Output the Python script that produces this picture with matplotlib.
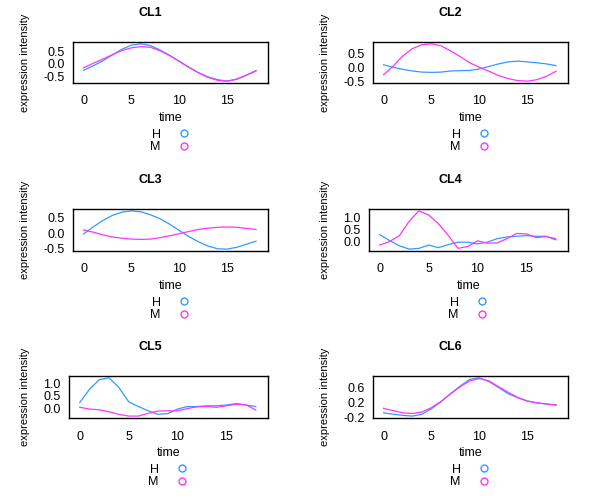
import matplotlib
matplotlib.use("Agg")
import matplotlib.pyplot as plt
from matplotlib.lines import Line2D

plt.rcParams['font.family'] = ['Liberation Sans', 'DejaVu Sans']
plt.rcParams['axes.unicode_minus'] = False

# time points and cluster profiles (H = blue, M = magenta)
time = list(range(19))

cl1_h = [-0.26, -0.08, 0.12, 0.36, 0.59, 0.76, 0.81, 0.74, 0.56, 0.34,
         0.10, -0.14, -0.36, -0.53, -0.64, -0.70, -0.62, -0.46, -0.28]
cl1_m = [-0.16, 0.02, 0.19, 0.37, 0.54, 0.65, 0.70, 0.67, 0.53, 0.33,
         0.10, -0.14, -0.36, -0.55, -0.67, -0.70, -0.62, -0.46, -0.28]

cl2_h = [0.10, 0.01, -0.06, -0.12, -0.16, -0.17, -0.16, -0.12, -0.11, -0.10,
         -0.05, 0.04, 0.13, 0.20, 0.23, 0.20, 0.17, 0.13, 0.07]
cl2_m = [-0.25, 0.05, 0.41, 0.67, 0.81, 0.84, 0.77, 0.59, 0.39, 0.17,
         0.01, -0.13, -0.28, -0.39, -0.46, -0.48, -0.43, -0.31, -0.13]

cl3_h = [-0.03, 0.20, 0.41, 0.58, 0.69, 0.73, 0.70, 0.60, 0.47, 0.29,
         0.08, -0.12, -0.29, -0.43, -0.52, -0.53, -0.47, -0.37, -0.27]
cl3_m = [0.10, 0.03, -0.06, -0.13, -0.17, -0.20, -0.21, -0.20, -0.15, -0.09,
         -0.02, 0.05, 0.12, 0.16, 0.19, 0.20, 0.19, 0.15, 0.12]

cl4_h = [0.29, 0.04, -0.18, -0.32, -0.29, -0.15, -0.26, -0.13, -0.03, -0.03,
         -0.10, -0.03, 0.12, 0.19, 0.22, 0.25, 0.22, 0.22, 0.07]
cl4_m = [-0.15, 0.00, 0.24, 0.85, 1.29, 1.12, 0.75, 0.26, -0.29, -0.21,
         0.03, -0.07, -0.06, 0.12, 0.34, 0.32, 0.16, 0.21, 0.12]

cl5_h = [0.23, 0.76, 1.14, 1.21, 0.83, 0.26, 0.07, -0.10, -0.24, -0.21,
         -0.03, 0.07, 0.07, 0.10, 0.10, 0.13, 0.19, 0.13, 0.07]
cl5_m = [0.04, -0.03, -0.06, -0.14, -0.24, -0.31, -0.31, -0.20, -0.11, -0.10,
         -0.10, -0.01, 0.06, 0.07, 0.04, 0.10, 0.16, 0.14, -0.07]

cl6_h = [-0.08, -0.12, -0.15, -0.17, -0.12, 0.03, 0.22, 0.44, 0.65, 0.83,
         0.87, 0.77, 0.61, 0.44, 0.33, 0.24, 0.19, 0.16, 0.13]
cl6_m = [0.04, -0.02, -0.08, -0.10, -0.06, 0.06, 0.23, 0.44, 0.63, 0.79,
         0.85, 0.79, 0.63, 0.48, 0.34, 0.24, 0.19, 0.16, 0.13]

titles = ["CL1", "CL2", "CL3", "CL4", "CL5", "CL6"]
h_series = [cl1_h, cl2_h, cl3_h, cl4_h, cl5_h, cl6_h]
m_series = [cl1_m, cl2_m, cl3_m, cl4_m, cl5_m, cl6_m]
y_ticks = [[-0.5, 0.0, 0.5], [-0.5, 0.0, 0.5], [-0.5, 0.0, 0.5],
           [0.0, 0.5, 1.0], [0.0, 0.5, 1.0], [-0.2, 0.2, 0.6]]
x_ticks = [0, 5, 10, 15]

H_COLOR = "#3399ff"
M_COLOR = "#ff33ff"

W, H = 600, 500
fig = plt.figure(figsize=(6, 5), dpi=100)


def fx(x):
    return x / W


def fy(y):
    return 1 - y / H


# axes boxes in pixels: left, top, right, bottom
boxes = [(73, 42, 268, 83), (373, 42, 568, 83),
         (73, 209, 268, 251), (369, 209, 568, 251),
         (69, 376, 268, 418), (373, 376, 568, 418)]

for i, (l, t, r, b) in enumerate(boxes):
    col = i % 2
    row_off = (i // 2) * 167
    ax = fig.add_axes([fx(l), fy(b), (r - l) / W, (b - t) / H])
    ax.plot(time, h_series[i], color=H_COLOR, lw=0.9)
    ax.plot(time, m_series[i], color=M_COLOR, lw=0.9)
    ax.set_xlim(-1.1, 19.25)
    ax.margins(y=0.05)
    ax.set_xticks(x_ticks)
    ax.set_yticks(y_ticks[i])
    ax.set_yticklabels(["%.1f" % v for v in y_ticks[i]])
    ax.tick_params(length=0, labelsize=9, colors="black")
    ax.tick_params(axis="x", pad=9)
    ax.tick_params(axis="y", pad=6)
    for s in ax.spines.values():
        s.set_linewidth(1.0)
        s.set_color("black")

    cx = (l + r) / 2
    fig.text(fx(150 + col * 300), fy(13 + row_off), titles[i],
             ha="center", va="center", fontsize=9, fontweight="bold")
    fig.text(fx(25 + col * 300), fy((t + b) / 2), "expression intensity",
             rotation=90, ha="center", va="center", fontsize=8)
    fig.text(fx(cx), fy(b + 35), "time", ha="center", va="center", fontsize=9)

    handles = [Line2D([], [], ls="none", marker="o", ms=5, mfc="none",
                      mec=H_COLOR, mew=1.0),
               Line2D([], [], ls="none", marker="o", ms=5, mfc="none",
                      mec=M_COLOR, mew=1.0)]
    fig.legend(handles, ["H", "M"], loc="center",
               bbox_to_anchor=(fx(cx), fy(b + 58)), bbox_transform=fig.transFigure,
               frameon=False, markerfirst=False, fontsize=9, handlelength=1.0,
               handletextpad=1.4, labelspacing=0.05, borderpad=0, borderaxespad=0)

fig.savefig("out.png", dpi=100)
